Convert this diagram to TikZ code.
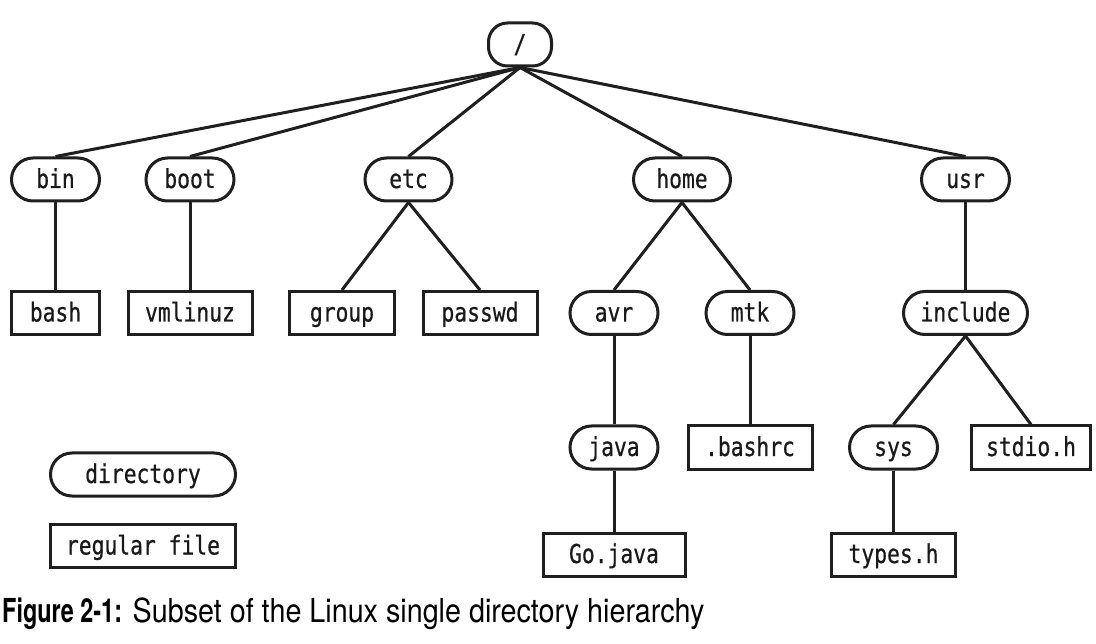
\documentclass[tikz,border=0pt]{standalone}
\usepackage{fontspec}
\newfontfamily\nodefont[FakeStretch=0.82,FakeBold=0.6]{DejaVu Sans Mono}
\newfontfamily\capfont[FakeStretch=0.87]{TeX Gyre Heros}
\newfontfamily\capbold[FakeStretch=0.71]{TeX Gyre Heros Bold}
\begin{document}
\begin{tikzpicture}[x=1pt,y=-1pt,
  base/.style={draw=black!88,line width=3pt,inner sep=0pt,minimum height=43pt,
    text height=17pt,text depth=0pt,font=\nodefont\fontsize{26pt}{28pt}\selectfont,text=black!90},
  dir/.style={base,rounded corners=21.5pt},
  rootbox/.style={base,rounded corners=19pt},
  file/.style={base},
  edge/.style={draw=black!88,line width=3pt}]
\useasboundingbox (0,0) rectangle (1096,644);
% root
\node[rootbox,minimum width=63pt] (root) at (520,44.5) {/};
% row 1
\node[dir,minimum width=88pt] (bin)  at (55.5,179.5) {bin};
\node[dir,minimum width=88pt] (boot) at (190,179.5) {boot};
\node[dir,minimum width=87pt] (etc)  at (408.5,179.5) {etc};
\node[dir,minimum width=97pt] (home) at (682,179.5) {home};
\node[dir,minimum width=88pt] (usr)  at (965.5,179.5) {usr};
% row 2
\node[file,minimum width=88pt]  (bash)    at (55.5,313) {bash};
\node[file,minimum width=124pt] (vmlinuz) at (190,313) {vmlinuz};
\node[file,minimum width=105pt] (group)   at (342,313) {group};
\node[file,minimum width=114pt] (passwd)  at (480,313) {passwd};
\node[dir,minimum width=88pt]   (avr)     at (614,313) {avr};
\node[dir,minimum width=88pt]   (mtk)     at (750,313) {mtk};
\node[dir,minimum width=124pt]  (include) at (965.5,313) {include};
% row 3
\node[dir,minimum width=88pt]   (java)    at (614,447.5) {java};
\node[file,minimum width=124pt] (bashrc)  at (750,447.5) {.bashrc};
\node[dir,minimum width=88pt]   (sys)     at (893.5,447.5) {sys};
\node[file,minimum width=119pt] (stdio)   at (1031,447.5) {stdio.h};
% row 4
\node[file,minimum width=142pt] (gojava)  at (614,554.5) {Go.java};
\node[file,minimum width=124pt] (types)   at (893.5,554.5) {types.h};
% legend
\node[dir,minimum width=185pt]  (legdir)  at (143,474.5) {directory};
\node[file,minimum width=185pt] (legfile) at (143,546) {regular file};
% edges
\foreach \c in {bin,boot,etc,home,usr}
  \draw[edge] (root.south) -- (\c.north);
\draw[edge] (bin.south) -- (bash.north);
\draw[edge] (boot.south) -- (vmlinuz.north);
\draw[edge] (etc.south) -- (group.north);
\draw[edge] (etc.south) -- (passwd.north);
\draw[edge] (home.south) -- (avr.north);
\draw[edge] (home.south) -- (mtk.north);
\draw[edge] (usr.south) -- (include.north);
\draw[edge] (avr.south) -- (java.north);
\draw[edge] (mtk.south) -- (bashrc.north);
\draw[edge] (include.south) -- (sys.north);
\draw[edge] (include.south) -- (stdio.north);
\draw[edge] (java.south) -- (gojava.north);
\draw[edge] (sys.south) -- (types.north);
% caption
\node[anchor=base west,inner sep=0pt,font=\capfont\fontsize{33pt}{36pt}\selectfont] (caption) at (2,622)
  {{\capbold Figure 2-1:} Subset of the Linux single directory hierarchy};
\end{tikzpicture}
\end{document}
